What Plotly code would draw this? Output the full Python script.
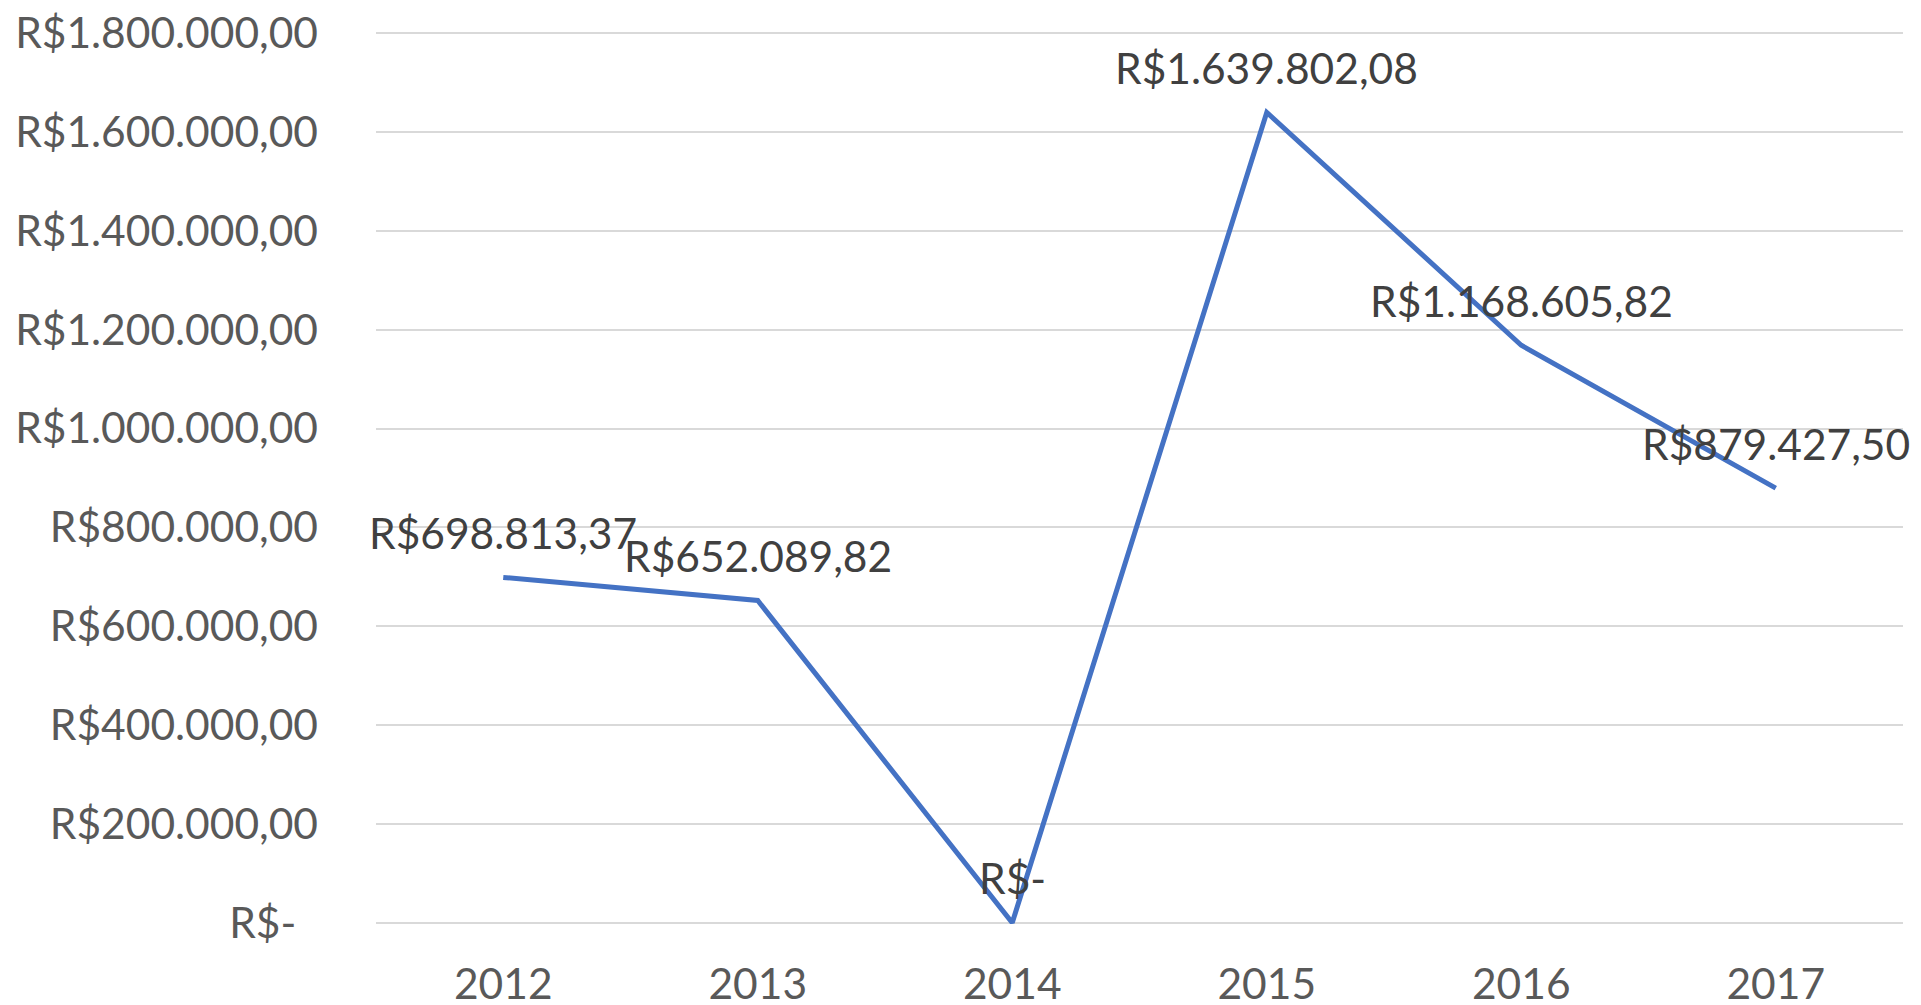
import plotly.graph_objects as go

years = ["2012", "2013", "2014", "2015", "2016", "2017"]
values = [698813.37, 652089.82, 0.0, 1639802.08, 1168605.82, 879427.50]
y_ticks = [0, 200000, 400000, 600000, 800000, 1000000, 1200000, 1400000, 1600000, 1800000]


def brl(v):
    if v == 0:
        return "R$-"
    s = f"{v:,.2f}"
    s = s.replace(",", "X").replace(".", ",").replace("X", ".")
    return "R$" + s


y_tick_text = [brl(v) if v != 0 else "R$-\u00a0\u00a0" for v in y_ticks]
data_labels = [brl(v) for v in values]

FONT = "Lato"
FS = 42.5
fig = go.Figure()
fig.add_trace(go.Scatter(
    x=years, y=values, mode="lines",
    line=dict(color="#4472C4", width=5),
    hoverinfo="skip", showlegend=False,
))

for i, (y, t) in enumerate(zip(values, data_labels)):
    fig.add_annotation(x=i, y=y, text=t, showarrow=False, yshift=45,
                       font=dict(family=FONT, size=FS, color="#404040"))

fig.update_layout(
    width=1913, height=997,
    margin=dict(l=368, r=18, t=24, b=81),
    paper_bgcolor="white", plot_bgcolor="white",
    font=dict(family=FONT, size=FS, color="#595959"),
)
fig.update_xaxes(type="category", range=[-0.5, 5.5], showgrid=False,
                 showline=False, zeroline=False, ticks="",
                 automargin=False, ticklabelstandoff=31,
                 tickfont=dict(family=FONT, size=FS, color="#595959"))
fig.update_yaxes(range=[-2500, 1802500], tickvals=y_ticks, ticktext=y_tick_text,
                 showgrid=True, gridcolor="#D9D9D9", gridwidth=1.5,
                 zeroline=False, showline=False, ticks="",
                 automargin=False, ticklabeloverflow="allow",
                 ticklabelstandoff=57,
                 tickfont=dict(family=FONT, size=FS, color="#595959"))

fig.write_html("out.html")
